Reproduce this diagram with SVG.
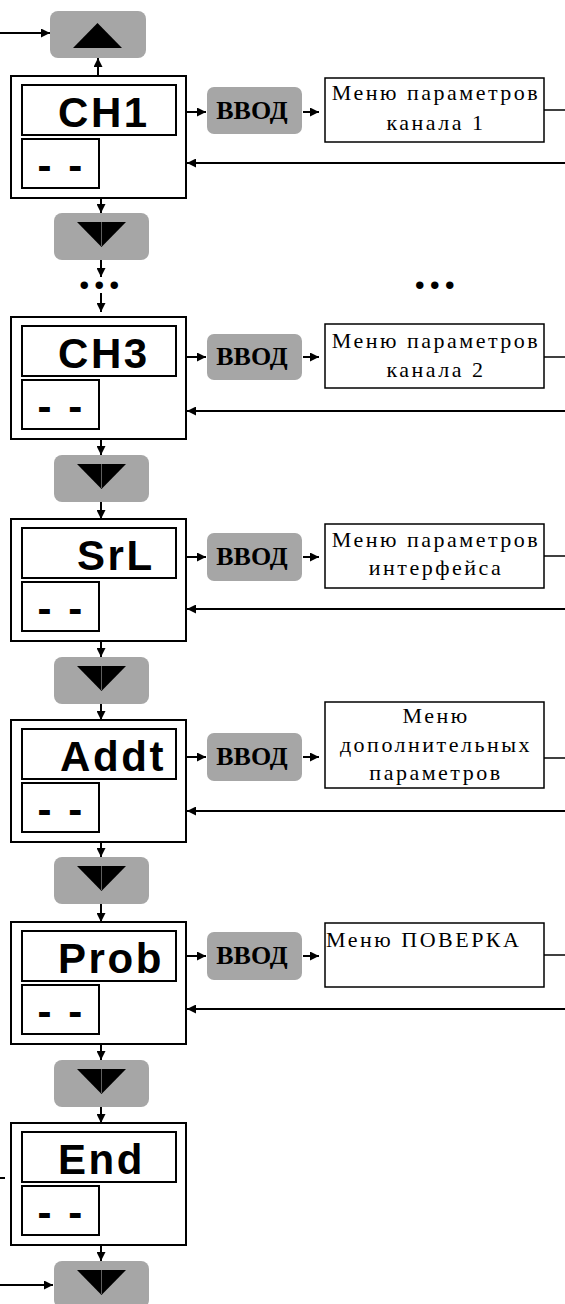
<svg xmlns="http://www.w3.org/2000/svg" width="565" height="1304" viewBox="0 0 565 1304">
<defs>
<style>
.box{fill:#fff;stroke:#000;stroke-width:2}
.menu{fill:#fff;stroke:#000;stroke-width:1.5}
.btn{fill:#a6a6a6}
.tri{fill:#000}
.mid{stroke:#777;stroke-width:0.8}
.lbl{font-family:"Liberation Sans",Arial,sans-serif;font-weight:bold;font-size:42px;letter-spacing:2.6px;fill:#000}
.vvod{font-family:"Liberation Serif","Times New Roman",serif;font-weight:bold;font-size:26px;text-anchor:middle;fill:#000}
.mt{font-family:"Liberation Serif","Times New Roman",serif;font-size:22px;letter-spacing:2.5px;text-anchor:middle;fill:#000}
.dots{font-family:"Liberation Serif","Times New Roman",serif;font-weight:bold;font-size:46px;letter-spacing:3.5px;fill:#000}
.c{stroke:#000;stroke-width:2;fill:none;marker-end:url(#ah)}
.p{stroke:#000;stroke-width:2;fill:none}
.t{stroke:#000;stroke-width:1.5;fill:none}
</style>
<marker id="ah" viewBox="0 0 9 9" refX="9" refY="4.5" markerWidth="9" markerHeight="9" markerUnits="userSpaceOnUse" orient="auto">
<path d="M0,0 L9,4.5 L0,9 z" fill="#000"/>
</marker>
</defs>
<rect width="565" height="1304" fill="#fff"/>

<g id="btn-up">
<rect class="btn" x="50" y="11" width="96" height="47" rx="8"/>
<polygon class="tri" points="73,48 122,48 97.5,23"/>
</g>
<g id="btn-down-1">
<rect class="btn" x="54" y="213" width="95" height="47" rx="8"/>
<polygon class="tri" points="77,222 126,222 101.5,247"/><line class="mid" x1="101.5" y1="222" x2="101.5" y2="246"/>
</g>
<g id="btn-down-2">
<rect class="btn" x="54" y="455" width="95" height="47" rx="8"/>
<polygon class="tri" points="77,464 126,464 101.5,489"/><line class="mid" x1="101.5" y1="464" x2="101.5" y2="488"/>
</g>
<g id="btn-down-3">
<rect class="btn" x="54" y="657" width="95" height="47" rx="8"/>
<polygon class="tri" points="77,666 126,666 101.5,691"/><line class="mid" x1="101.5" y1="666" x2="101.5" y2="690"/>
</g>
<g id="btn-down-4">
<rect class="btn" x="54" y="857" width="95" height="47" rx="8"/>
<polygon class="tri" points="77,866 126,866 101.5,891"/><line class="mid" x1="101.5" y1="866" x2="101.5" y2="890"/>
</g>
<g id="btn-down-5">
<rect class="btn" x="54" y="1060" width="95" height="47" rx="8"/>
<polygon class="tri" points="77,1069 126,1069 101.5,1094"/><line class="mid" x1="101.5" y1="1069" x2="101.5" y2="1093"/>
</g>
<g id="btn-down-6">
<rect class="btn" x="54" y="1261" width="95" height="47" rx="8"/>
<polygon class="tri" points="77,1270 126,1270 101.5,1295"/><line class="mid" x1="101.5" y1="1270" x2="101.5" y2="1294"/>
</g>

<g id="node-ch1">
<rect class="box" x="11" y="76" width="175" height="122"/>
<rect class="box" x="22" y="85" width="154" height="50"/>
<rect class="box" x="22" y="139" width="77" height="49"/>
<text class="lbl" x="58" y="127">CH1</text>
<text class="lbl" x="37.5" y="180">- -</text>
</g>
<g id="node-ch3">
<rect class="box" x="11" y="317" width="175" height="122"/>
<rect class="box" x="22" y="326" width="154" height="50"/>
<rect class="box" x="22" y="380" width="77" height="49"/>
<text class="lbl" x="58" y="368">CH3</text>
<text class="lbl" x="37.5" y="421">- -</text>
</g>
<g id="node-srl">
<rect class="box" x="11" y="519" width="175" height="122"/>
<rect class="box" x="22" y="528" width="154" height="50"/>
<rect class="box" x="22" y="582" width="77" height="49"/>
<text class="lbl" x="77" y="570">SrL</text>
<text class="lbl" x="37.5" y="623">- -</text>
</g>
<g id="node-addt">
<rect class="box" x="11" y="720" width="175" height="122"/>
<rect class="box" x="22" y="729" width="154" height="50"/>
<rect class="box" x="22" y="783" width="77" height="49"/>
<text class="lbl" x="60" y="771">Addt</text>
<text class="lbl" x="37.5" y="824">- -</text>
</g>
<g id="node-prob">
<rect class="box" x="11" y="922" width="175" height="122"/>
<rect class="box" x="22" y="931" width="154" height="50"/>
<rect class="box" x="22" y="985" width="77" height="49"/>
<text class="lbl" x="58" y="973">Prob</text>
<text class="lbl" x="37.5" y="1026">- -</text>
</g>
<g id="node-end">
<rect class="box" x="11" y="1123" width="175" height="122"/>
<rect class="box" x="22" y="1132" width="154" height="50"/>
<rect class="box" x="22" y="1186" width="77" height="49"/>
<text class="lbl" x="58" y="1174">End</text>
<text class="lbl" x="37.5" y="1227">- -</text>
</g>

<g id="vvod-1"><rect class="btn" x="207" y="87" width="95" height="47" rx="7"/><text class="vvod" x="252" y="119">ВВОД</text></g>
<g id="vvod-2"><rect class="btn" x="207" y="334" width="95" height="46" rx="7"/><text class="vvod" x="252" y="365">ВВОД</text></g>
<g id="vvod-3"><rect class="btn" x="207" y="533" width="95" height="48" rx="7"/><text class="vvod" x="252" y="565">ВВОД</text></g>
<g id="vvod-4"><rect class="btn" x="207" y="733" width="95" height="48" rx="7"/><text class="vvod" x="252" y="765">ВВОД</text></g>
<g id="vvod-5"><rect class="btn" x="207" y="932" width="95" height="48" rx="7"/><text class="vvod" x="252" y="964">ВВОД</text></g>

<g id="menu-1"><rect class="menu" x="325" y="78" width="219" height="64"/>
<text class="mt" x="436" y="100">Меню параметров</text><text class="mt" x="436" y="130">канала 1</text></g>
<g id="menu-2"><rect class="menu" x="325" y="324" width="219" height="64"/>
<text class="mt" x="436" y="348">Меню параметров</text><text class="mt" x="436" y="377">канала 2</text></g>
<g id="menu-3"><rect class="menu" x="325" y="524" width="219" height="64"/>
<text class="mt" x="436" y="547">Меню параметров</text><text class="mt" x="436" y="575">интерфейса</text></g>
<g id="menu-4"><rect class="menu" x="325" y="702" width="219" height="86"/>
<text class="mt" x="436" y="723">Меню</text><text class="mt" x="436" y="752">дополнительных</text><text class="mt" x="436" y="780">параметров</text></g>
<g id="menu-5"><rect class="menu" x="325" y="923" width="219" height="64"/>
<text class="mt" x="326" y="947" style="text-anchor:start">Меню ПОВЕРКА</text></g>

<text class="dots" x="78.5" y="289">...</text>
<text class="dots" x="414" y="289">...</text>

<g id="connectors">
<line class="c" x1="0" y1="33" x2="50" y2="33"/>
<line class="c" x1="98" y1="76" x2="98" y2="58"/>
<line class="c" x1="101" y1="198" x2="101" y2="213"/>
<line class="c" x1="101" y1="260" x2="101" y2="277"/>
<line class="c" x1="101" y1="293" x2="101" y2="312"/>
<line class="c" x1="101" y1="439" x2="101" y2="455"/>
<line class="c" x1="101" y1="502" x2="101" y2="519"/>
<line class="c" x1="101" y1="641" x2="101" y2="657"/>
<line class="c" x1="101" y1="704" x2="101" y2="720"/>
<line class="c" x1="101" y1="842" x2="101" y2="857"/>
<line class="c" x1="101" y1="904" x2="101" y2="922"/>
<line class="c" x1="101" y1="1044" x2="101" y2="1060"/>
<line class="c" x1="101" y1="1107" x2="101" y2="1123"/>
<line class="c" x1="101" y1="1245" x2="101" y2="1261"/>
<line class="p" x1="0" y1="1178" x2="5" y2="1178"/>
<line class="c" x1="0" y1="1285" x2="53" y2="1285"/>

<line class="c" x1="187" y1="112" x2="206" y2="112"/>
<line class="c" x1="303" y1="112" x2="319" y2="112"/>
<line class="t" x1="544" y1="110" x2="565" y2="110"/>
<line class="c" x1="565" y1="163" x2="187" y2="163"/>

<line class="c" x1="187" y1="357" x2="206" y2="357"/>
<line class="c" x1="303" y1="357" x2="319" y2="357"/>
<line class="t" x1="544" y1="357" x2="565" y2="357"/>
<line class="c" x1="565" y1="411" x2="187" y2="411"/>

<line class="c" x1="187" y1="557" x2="206" y2="557"/>
<line class="c" x1="303" y1="557" x2="319" y2="557"/>
<line class="t" x1="544" y1="556" x2="565" y2="556"/>
<line class="c" x1="565" y1="609" x2="187" y2="609"/>

<line class="c" x1="187" y1="757" x2="206" y2="757"/>
<line class="c" x1="303" y1="757" x2="319" y2="757"/>
<line class="t" x1="544" y1="758" x2="565" y2="758"/>
<line class="c" x1="565" y1="811" x2="187" y2="811"/>

<line class="c" x1="187" y1="956" x2="206" y2="956"/>
<line class="c" x1="303" y1="956" x2="319" y2="956"/>
<line class="t" x1="544" y1="955" x2="565" y2="955"/>
<line class="c" x1="565" y1="1009" x2="187" y2="1009"/>
</g>
</svg>
